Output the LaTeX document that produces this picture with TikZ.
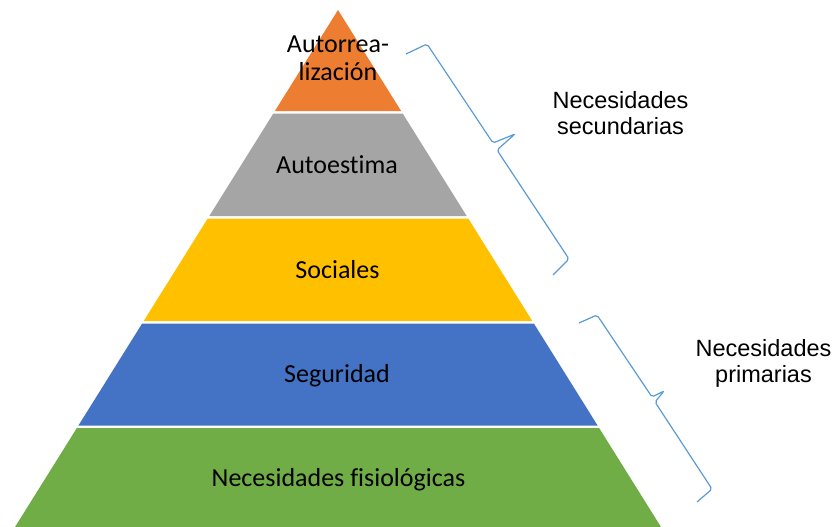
\documentclass[tikz,border=0pt]{standalone}
\usepackage{fontspec}
\setmainfont{Carlito}[Ligatures=NoCommon, RawFeature={-liga;-clig;-calt;-dlig}]
\newfontfamily\arialfont{Liberation Sans}
\usepackage{tikz}
\usetikzlibrary{positioning, calc}

\definecolor{selforange}{HTML}{ED7D31}
\definecolor{esteemgray}{HTML}{A5A5A5}
\definecolor{socialyellow}{HTML}{FFC000}
\definecolor{safetyblue}{HTML}{4472C4}
\definecolor{basegreen}{HTML}{70AD47}
\definecolor{braceblue}{HTML}{5B9BD5}

\begin{document}
\begin{tikzpicture}[x=1pt, y=-1pt,
		level/.style={font=\fontsize{26}{28}\selectfont, align=center, inner sep=0pt},
		side/.style={font=\arialfont\fontsize{23.5}{26}\selectfont, align=center, inner sep=0pt},
		bracket/.style={draw=braceblue, line width=1.2pt, rounded corners=2pt}]

		\useasboundingbox (0,0) rectangle (838,527);

		\coordinate (apex) at (338,10);
		\coordinate (base-l) at (15,527);
		\coordinate (base-r) at (661,527);

		% bands of the pyramid, white gaps between them
		\fill[selforange] (apex) -- ($(apex)!0.19536!(base-r)$) -- ($(apex)!0.19536!(base-l)$) -- cycle;
		\fill[esteemgray] ($(apex)!0.20019!(base-l)$) -- ($(apex)!0.20019!(base-r)$)
			-- ($(apex)!0.39845!(base-r)$) -- ($(apex)!0.39845!(base-l)$) -- cycle;
		\fill[socialyellow] ($(apex)!0.40329!(base-l)$) -- ($(apex)!0.40329!(base-r)$)
			-- ($(apex)!0.60155!(base-r)$) -- ($(apex)!0.60155!(base-l)$) -- cycle;
		\fill[safetyblue] ($(apex)!0.60638!(base-l)$) -- ($(apex)!0.60638!(base-r)$)
			-- ($(apex)!0.80368!(base-r)$) -- ($(apex)!0.80368!(base-l)$) -- cycle;
		\fill[basegreen] ($(apex)!0.80851!(base-l)$) -- ($(apex)!0.80851!(base-r)$)
			-- (base-r) -- (base-l) -- cycle;

		\node[level, anchor=base] (autorr) at (338,81) {Autorrea-\\lización};
		\node[level, anchor=base] (autoest) at (337,173) {Autoestima};
		\node[level, anchor=base] (social) at (337.5,278) {Sociales};
		\node[level, anchor=base] (segur) at (337,382) {Seguridad};
		\node[level, anchor=base] (fisio) at (338.5,486) {Necesidades fisiológicas};

		% braces
		\coordinate (sec-s) at (406,54);
		\coordinate (sec-c1) at (427,44);
		\coordinate (sec-m1) at (493,143);
		\coordinate (sec-t) at (515,134);
		\coordinate (sec-m2) at (497,150);
		\coordinate (sec-c2) at (569,259);
		\coordinate (sec-e) at (553,275);
		\draw[bracket] (sec-s) -- (sec-c1) -- (sec-m1) -- (sec-t) -- (sec-m2) -- (sec-c2) -- (sec-e);

		\coordinate (pri-s) at (579,323);
		\coordinate (pri-c1) at (597,315);
		\coordinate (pri-m1) at (652,397);
		\coordinate (pri-t) at (664,391);
		\coordinate (pri-m2) at (655,402);
		\coordinate (pri-c2) at (712,489);
		\coordinate (pri-e) at (697,502);
		\draw[bracket] (pri-s) -- (pri-c1) -- (pri-m1) -- (pri-t) -- (pri-m2) -- (pri-c2) -- (pri-e);

		\node[side, anchor=base] (secund) at (620.5,134) {Necesidades\\secundarias};
		\node[side, anchor=base] (primar) at (763.5,382) {Necesidades\\primarias};
\end{tikzpicture}
\end{document}
